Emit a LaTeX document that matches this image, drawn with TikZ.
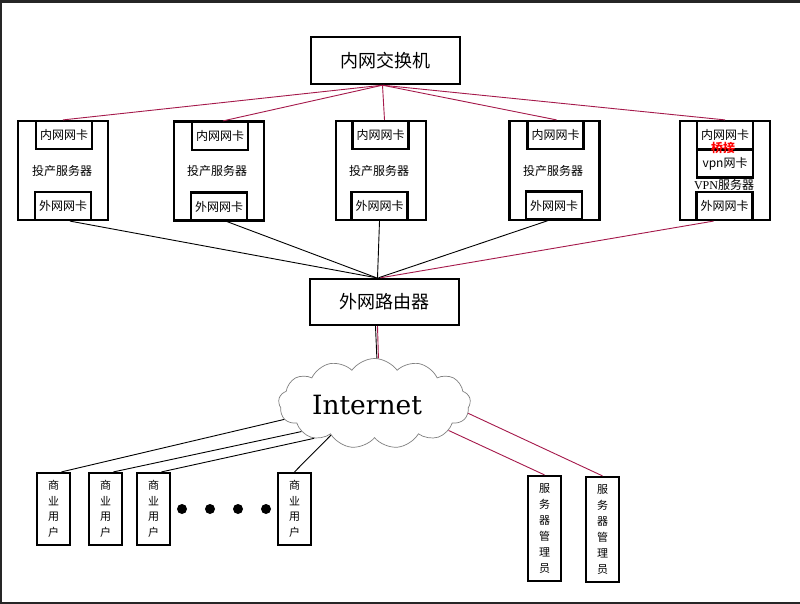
\documentclass[tikz,border=0pt]{standalone}
\usepackage{fontspec}
\setmainfont{Liberation Serif}
\newfontfamily\cjk{Noto Sans CJK SC}
\newfontfamily\netfont{DejaVu Serif}
\usepackage{xcolor}
\usetikzlibrary{shapes.symbols}
\definecolor{linkred}{RGB}{165,25,75}
\definecolor{framegray}{RGB}{38,38,38}

\begin{document}
\begin{tikzpicture}[x=1pt, y=-1pt,
    bigbox/.style={draw, line width=2.4pt, minimum width=149pt, minimum height=47pt, inner sep=0pt, font=\cjk\fontsize{18}{20}\selectfont},
    server/.style={draw, line width=2.2pt, minimum width=90pt, minimum height=99pt, inner sep=0pt},
    card/.style={draw, fill=white, line width=2.2pt, minimum width=56pt, minimum height=28pt, inner sep=0pt, font=\cjk\fontsize{12}{14}\selectfont},
    srvlabel/.style={font=\cjk\fontsize{12}{14}\selectfont},
    user/.style={draw, line width=2.2pt, minimum width=33pt, minimum height=72pt, inner sep=0pt, align=center, font=\cjk\fontsize{11}{15.5}\selectfont},
    admin/.style={user, minimum height=105pt, font=\cjk\fontsize{11}{16}\selectfont},
    link/.style={line width=0.9pt},
    redlink/.style={line width=0.9pt, draw=linkred}]
    \useasboundingbox (0,0) rectangle (800,604);
    \fill[white] (0,0) rectangle (800,604);
    % Frame edges
    \fill[framegray] (0,0) rectangle (800,3);
    \fill[framegray] (0,0) rectangle (2,604);
    \fill[framegray] (0,602) rectangle (800,604);

    % Switch and router
    \node[bigbox] (sw) at (385.5,60.5) {内网交换机};
    \node[bigbox, minimum height=46pt] (rt) at (384.5,302) {外网路由器};

    % Production servers
    \node[server] (s1) at (63,170.5) {};
    \node[card] (s1a) at (64,135) {内网网卡};
    \node[card] (s1b) at (63,206) {外网网卡};
    \node[srvlabel] at (62,171) {投产服务器};

    \node[server] (s2) at (219,171) {};
    \node[card] (s2a) at (220,136) {内网网卡};
    \node[card] (s2b) at (219,206.5) {外网网卡};
    \node[srvlabel] at (217,171) {投产服务器};

    \node[server] (s3) at (381,170.5) {};
    \node[card] (s3a) at (380.5,135) {内网网卡};
    \node[card] (s3b) at (379.5,206) {外网网卡};
    \node[srvlabel] at (379,171) {投产服务器};

    \node[server] (s4) at (554.5,170.5) {};
    \node[card] (s4a) at (555.5,135) {内网网卡};
    \node[card] (s4b) at (554,205.5) {外网网卡};
    \node[srvlabel] at (553,171) {投产服务器};

    % VPN server
    \node[server] (vpn) at (725,170.5) {};
    \node[card] (vpna) at (725,135) {内网网卡};
    \node[card] (vpnv) at (725,163.5) {vpn{\cjk 网卡}};
    \node[card, minimum height=28pt] (vpnb) at (724.5,206) {外网网卡};
    \node[font=\cjk\bfseries\fontsize{12}{14}\selectfont, text=red] (bridge) at (723,148) {桥接};
    \node[font=\fontsize{12}{14}\selectfont, fill=white, inner sep=0.5pt] (vpnlabel) at (724,185) {VPN{\cjk 服务器}};

    % Internet cloud
    \node[cloud, draw=gray, line width=0.7pt, cloud puffs=13, cloud puff arc=110, aspect=2.1,
          minimum width=192pt, minimum height=90pt, inner sep=0pt] (net) at (374.5,403.5) {};
    \node[font=\netfont\fontsize{26.5}{30}\selectfont, inner sep=0pt] (nettext) at (367,405.5) {Internet};

    % Business users
    \node[user] (u1) at (53.5,509) {商\\业\\用\\户};
    \node[user] (u2) at (105.5,509) {商\\业\\用\\户};
    \node[user] (u3) at (153.5,509) {商\\业\\用\\户};
    \node[user] (u4) at (294.5,509) {商\\业\\用\\户};
    \foreach \x in {182,210,238,266}
        \fill (\x,509) circle (5pt);

    % Server admins
    \node[admin] (m1) at (544.5,528.5) {服\\务\\器\\管\\理\\员};
    \node[admin] (m2) at (602.5,529.5) {服\\务\\器\\管\\理\\员};

    % Switch to inner cards
    \draw[redlink] ([xshift=-3pt]sw.south) -- ([xshift=-1pt]s1a.north);
    \draw[redlink] ([xshift=-3pt]sw.south) -- ([xshift=3pt]s2a.north);
    \draw[redlink] ([xshift=-3pt]sw.south) -- ([xshift=4pt]s3a.north);
    \draw[redlink] ([xshift=-3pt]sw.south) -- ([xshift=1pt]s4a.north);
    \draw[redlink] ([xshift=-3pt]sw.south) -- (vpna.north);

    % Outer cards to router
    \draw[link] ([xshift=7pt]s1b.south) -- ([xshift=-8pt]rt.north);
    \draw[link] ([xshift=8pt]s2b.south) -- ([xshift=-8pt]rt.north);
    \draw[link] (s3b.south) -- ([xshift=-7pt]rt.north);
    \draw[link] ([xshift=-6pt]s4b.south) -- ([xshift=-6pt]rt.north);
    \draw[redlink] ([xshift=-11pt]vpnb.south) -- ([xshift=-4pt]rt.north);

    % Router to Internet
    \draw[link] ([xshift=-9pt]rt.south) -- (net.87);
    \draw[redlink] ([xshift=-7pt]rt.south) -- (net.85);

    % Internet to users
    \draw[link] (net.190) -- ([xshift=8pt]u1.north);
    \draw[link] (net.201) -- ([xshift=8pt]u2.north);
    \draw[link] (net.210) -- ([xshift=8pt]u3.north);
    \draw[link] (net.216) -- (u4.north);
    \draw[redlink] (net.340) -- (m1.north);
    \draw[redlink] (net.354) -- (m2.north);
\end{tikzpicture}
\end{document}
